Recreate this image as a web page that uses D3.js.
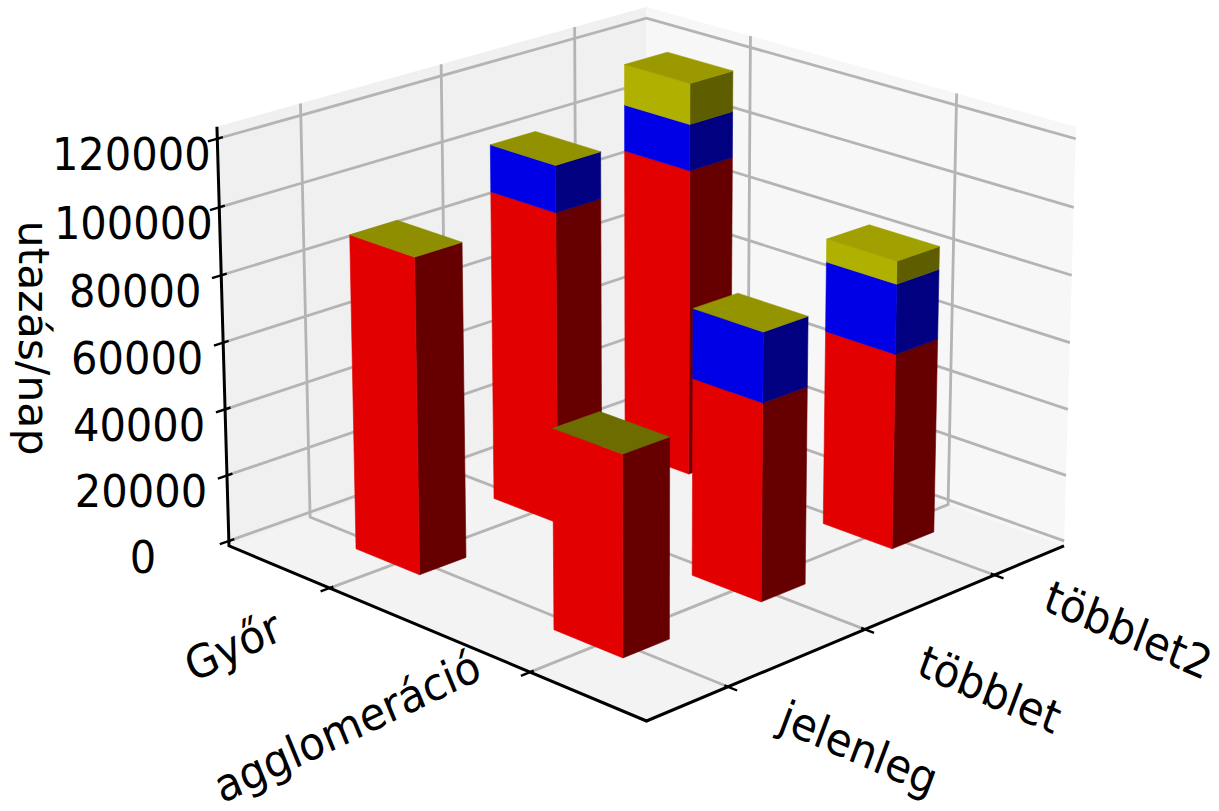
<!DOCTYPE html>
<html>
<head>
<meta charset="utf-8">
<script src="https://cdn.jsdelivr.net/npm/d3@7"></script>
<style>
  html, body { margin: 0; padding: 0; background: #fff; }
  svg { display: block; }
  text { font-family: "DejaVu Sans", sans-serif; fill: #000; }
</style>
</head>
<body>
<div id="chart"></div>
<script>
const places = ['Győr', 'agglomeráció'];
const scenarios = ['jelenleg', 'többlet', 'többlet2'];
const zTicks = [0, 20000, 40000, 60000, 80000, 100000, 120000];
const yLabel = 'utazás/nap';

// rows follow places, columns follow scenarios
const redValues = [[93900, 93900, 93900], [58600, 58600, 58600]];
const blueValues = [[0, 14000, 14000], [0, 20500, 20800]];
const yellowValues = [[0, 0, 12300], [0, 0, 6800]];

const colorsFront = ['#e20000', '#0000e6', '#b0b000'];
const colorsSide = ['#660000', '#000080', '#5e5e00'];
const topColors = [['#8e8e00', '#929200', '#9a9a00'], ['#6c6c00', '#949400', '#a0a000']];

const W = 1219, H = 811;
const svg = d3.select('#chart').append('svg').attr('width', W).attr('height', H);

// ── Camera ──
const elev = 19 * Math.PI / 180, azim = -45 * Math.PI / 180;
const dist = 16, boxZ = 0.7;
const barSize = 0.33;

const xWorld = d3.scaleLinear().domain([-0.37, 1.71]).range([-1, 1]);
const yWorld = d3.scaleLinear().domain([-0.405, 2.725]).range([-1, 1]);
const zWorld = d3.scaleLinear().domain([-1500, 123500]).range([-boxZ, boxZ]);
const [xLo, xHi] = xWorld.domain();
const [yLo, yHi] = yWorld.domain();
const [zLo, zHi] = zWorld.domain();

const se = Math.sin(elev), ce = Math.cos(elev), sa = Math.sin(azim), ca = Math.cos(azim);
function camera(x, y, z) {
  const wx = xWorld(x), wy = yWorld(y), wz = zWorld(z);
  const right = -sa * wx + ca * wy;
  const up = -se * ca * wx - se * sa * wy + ce * wz;
  const depth = ce * ca * wx + ce * sa * wy + se * wz;
  const f = 1 / (1 - depth / dist);
  return [right * f, up * f];
}

// Screen scales are fixed by the box corners in the reference
const px = d3.scaleLinear().domain([camera(xLo, yLo, zLo)[0], camera(xHi, yHi, zLo)[0]]).range([229, 1064]);
const py = d3.scaleLinear().domain([camera(xHi, yLo, zLo)[1], camera(xLo, yHi, zHi)[1]]).range([721, 7]);
const project = (x, y, z) => { const c = camera(x, y, z); return [px(c[0]), py(c[1])]; };
const poly = pts => d3.line()(pts.map(p => project(p[0], p[1], p[2]))) + 'Z';

const xTickAt = places.map((_, i) => i + barSize / 2);
const yTickAt = scenarios.map((_, j) => j + barSize / 2);

// ── Panes ──
const panes = svg.append('g');
panes.append('path').attr('fill', '#f0f0f0')
  .attr('d', poly([[xLo, yLo, zLo], [xLo, yHi, zLo], [xLo, yHi, zHi], [xLo, yLo, zHi]]));
panes.append('path').attr('fill', '#f7f7f7')
  .attr('d', poly([[xLo, yHi, zLo], [xHi, yHi, zLo], [xHi, yHi, zHi], [xLo, yHi, zHi]]));
panes.append('path').attr('fill', '#f3f3f3')
  .attr('d', poly([[xLo, yLo, zLo], [xHi, yLo, zLo], [xHi, yHi, zLo], [xLo, yHi, zLo]]));

// ── Grid ──
const grid = svg.append('g').attr('fill', 'none').attr('stroke', '#b4b4b4').attr('stroke-width', 2.8);
const gridPaths = [];
zTicks.forEach(z => gridPaths.push([[xLo, yLo, z], [xLo, yHi, z], [xHi, yHi, z]]));
xTickAt.forEach(x => gridPaths.push([[x, yLo, zLo], [x, yHi, zLo], [x, yHi, zHi]]));
yTickAt.forEach(y => gridPaths.push([[xHi, y, zLo], [xLo, y, zLo], [xLo, y, zHi]]));
grid.selectAll('path').data(gridPaths).join('path')
  .attr('d', d => d3.line()(d.map(p => project(p[0], p[1], p[2]))));

// ── Axes ──
const axes = svg.append('g').attr('fill', 'none').attr('stroke', '#000');
axes.append('path').attr('stroke-width', 3)
  .attr('d', d3.line()([project(xLo, yLo, zHi), project(xLo, yLo, zLo), project(xHi, yLo, zLo), project(xHi, yHi, zLo)]));

const xSpan = xHi - xLo, ySpan = yHi - yLo;
const tickLines = [];
zTicks.forEach(z => tickLines.push([[xLo, yLo - 0.02 * ySpan, z], [xLo, yLo + 0.012 * ySpan, z]]));
xTickAt.forEach(x => tickLines.push([[x, yLo - 0.02 * ySpan, zLo], [x, yLo + 0.008 * ySpan, zLo]]));
yTickAt.forEach(y => tickLines.push([[xHi + 0.02 * xSpan, y, zLo], [xHi - 0.008 * xSpan, y, zLo]]));
axes.selectAll('path.tick').data(tickLines).join('path').attr('class', 'tick')
  .attr('stroke-width', 2.4)
  .attr('d', d => d3.line()(d.map(p => project(p[0], p[1], p[2]))));

// ── Bars ──
const bars = [];
places.forEach((_, i) => scenarios.forEach((_, j) => bars.push({ i, j })));
bars.sort((a, b) => (a.i - a.j) - (b.i - b.j));

const barLayer = svg.append('g');
function face(pts, color) {
  barLayer.append('path').attr('d', poly(pts))
    .attr('fill', color).attr('stroke', color).attr('stroke-width', 0.6).attr('stroke-linejoin', 'round');
}
bars.forEach(({ i, j }) => {
  const x0 = i, x1 = i + barSize, y0 = j, y1 = j + barSize;
  const stack = [redValues[i][j], blueValues[i][j], yellowValues[i][j]];
  let base = 0;
  stack.forEach((v, s) => {
    if (v <= 0) return;
    const top = base + v;
    face([[x1, y0, base], [x1, y1, base], [x1, y1, top], [x1, y0, top]], colorsSide[s]);
    face([[x0, y0, base], [x1, y0, base], [x1, y0, top], [x0, y0, top]], colorsFront[s]);
    base = top;
  });
  face([[x0, y0, base], [x1, y0, base], [x1, y1, base], [x0, y1, base]], topColors[i][j]);
});

// ── Labels ──
const stretchY = 1.08;
function label(text, x, y, angle, size) {
  svg.append('text')
    .attr('transform', `translate(${x},${y}) scale(1,${stretchY}) rotate(${angle})`)
    .attr('text-anchor', 'middle').attr('dominant-baseline', 'central')
    .attr('font-size', size).text(text);
}

zTicks.forEach(z => {
  const p = project(xLo, yLo, z);
  label(String(z), p[0] - 86, p[1] + 16, 0, 41.6);
});

const xLabelOffsets = [[-97, 58], [-183, 54]];
places.forEach((name, i) => {
  const p = project(xTickAt[i], yLo, zLo);
  label(name, p[0] + xLabelOffsets[i][0], p[1] + xLabelOffsets[i][1], -24, 42);
});

const yLabelOffsets = [[131, 61], [125, 60], [134, 55]];
scenarios.forEach((name, j) => {
  const p = project(xHi, yTickAt[j], zLo);
  label(name, p[0] + yLabelOffsets[j][0], p[1] + yLabelOffsets[j][1], 22, 42);
});

svg.append('text')
  .attr('transform', 'translate(34,338) rotate(90)')
  .attr('text-anchor', 'middle').attr('dominant-baseline', 'central')
  .attr('font-size', 42.6).text(yLabel);
</script>
</body>
</html>
